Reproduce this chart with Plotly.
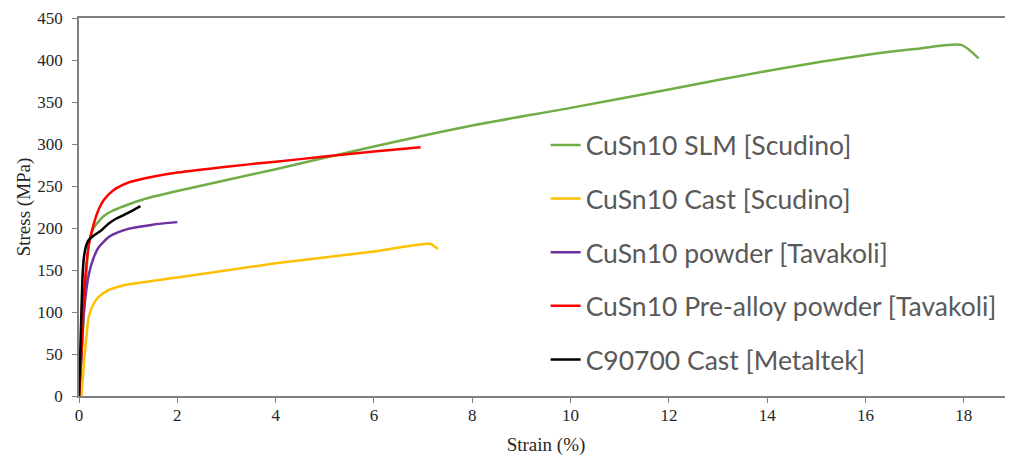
import plotly.graph_objects as go

# Data (strain %, stress MPa)
slm_x = [0, 0.05, 0.1, 0.2, 0.3, 0.5, 0.7, 1.0, 1.3, 2, 4, 6, 8, 10, 12, 14, 16, 17, 17.95, 18.3]
slm_y = [0, 50, 100, 180, 200, 214, 221, 228, 234, 244, 270, 297, 322, 343, 365, 387, 406, 413, 418, 402]

cast_x = [0.05, 0.1, 0.15, 0.2, 0.3, 0.4, 0.6, 0.8, 1.0, 2, 4, 6, 7.15, 7.3]
cast_y = [0, 40, 70, 95, 110, 118, 126, 130, 133, 141, 158, 172, 181, 175]

powder_x = [0, 0.05, 0.1, 0.2, 0.3, 0.4, 0.6, 0.8, 1.0, 1.5, 2.0]
powder_y = [0, 50, 100, 145, 165, 177, 189, 195, 199, 204, 207]

prealloy_x = [0, 0.05, 0.1, 0.2, 0.3, 0.4, 0.5, 0.7, 1.0, 1.5, 2, 3, 4, 5, 6, 6.95]
prealloy_y = [0, 50, 120, 180, 205, 222, 233, 245, 254, 261, 266, 273, 279, 285, 291, 296]

metal_x = [0, 0.03, 0.07, 0.1, 0.15, 0.2, 0.3, 0.45, 0.6, 0.75, 1.0, 1.25]
metal_y = [0, 60, 140, 165, 180, 186, 191, 197, 205, 211, 218, 226]

names = ["CuSn10 SLM [Scudino]", "CuSn10 Cast [Scudino]", "CuSn10 powder [Tavakoli]",
         "CuSn10 Pre-alloy powder [Tavakoli]", "C90700 Cast [Metaltek]"]
colors = ["#70AD47", "#FFC000", "#7030A0", "#FF0000", "#000000"]
xs = [slm_x, cast_x, powder_x, prealloy_x, metal_x]
ys = [slm_y, cast_y, powder_y, prealloy_y, metal_y]

x_ticks = [0, 2, 4, 6, 8, 10, 12, 14, 16, 18]
y_ticks = [0, 50, 100, 150, 200, 250, 300, 350, 400, 450]

fig = go.Figure()
for i, (n, c, x, y) in enumerate(zip(names, colors, xs, ys)):
    fig.add_trace(go.Scatter(x=x, y=y, mode="lines", name=n, legendgroup=f"g{i}",
                             line=dict(color=c, width=2.5, shape="spline", smoothing=0.6)))

tick_font = dict(family="Liberation Serif", size=17, color="#262626")
title_font = dict(family="Liberation Serif", size=19, color="#262626")
fig.update_layout(
    width=1005, height=458,
    margin=dict(l=71, r=0, t=10, b=70),
    plot_bgcolor="white", paper_bgcolor="white",
    showlegend=True,
    legend=dict(x=0.4996, y=0.727, xanchor="left", yanchor="top",
                font=dict(family="Lato", size=26.5, color="#595959"),
                traceorder="grouped", tracegroupgap=16.2, bgcolor="rgba(0,0,0,0)"),
    xaxis=dict(range=[0, 19], tickvals=x_ticks, showgrid=False, zeroline=False, automargin=False,
               showline=True, linecolor="#808080", linewidth=1.5, mirror=True,
               ticks="outside", ticklen=5, tickcolor="#808080", ticklabelstandoff=-2,
               tickfont=tick_font, title=dict(text="Strain (%)", font=title_font, standoff=14)),
    yaxis=dict(range=[0, 450], tickvals=y_ticks, showgrid=False, zeroline=False, automargin=False,
               showline=True, linecolor="#808080", linewidth=1.5,
               ticks="outside", ticklen=5, tickcolor="#808080", ticklabelstandoff=6,
               tickfont=tick_font, title=dict(text="Stress (MPa)", font=title_font, standoff=2)),
)
fig.write_html("out.html")
